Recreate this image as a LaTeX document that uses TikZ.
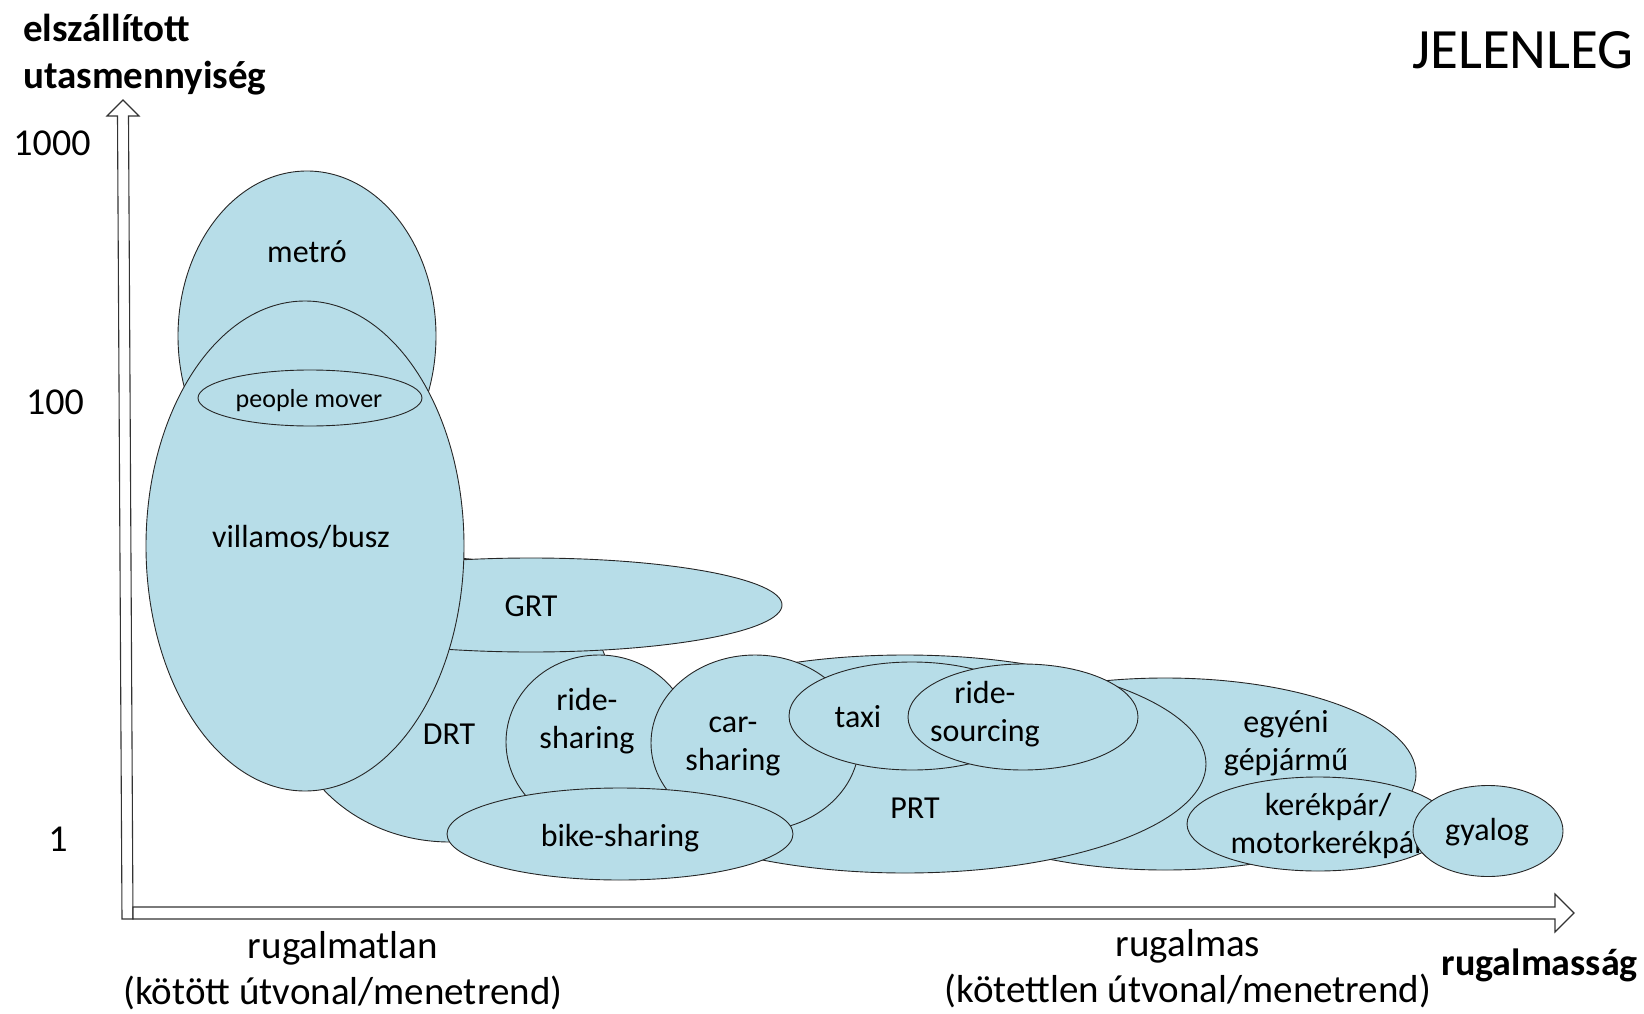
\documentclass[tikz,border=0pt]{standalone}
\usepackage{fontspec}
\setmainfont{Carlito}
\usetikzlibrary{shapes.geometric}
\definecolor{fillblue}{RGB}{183,221,232}
\tikzset{
  blob/.style={ellipse, draw=black!85, line width=0.9pt, fill=fillblue, inner sep=0pt},
  lbl/.style={font=\fontsize{32}{38}\selectfont, align=center, inner sep=0pt},
  smalllbl/.style={font=\fontsize{26}{31}\selectfont, align=center, inner sep=0pt},
  axlbl/.style={font=\fontsize{38}{45}\selectfont, align=center, inner sep=0pt},
  bottomlbl/.style={font=\fontsize{39}{46}\selectfont, align=center, inner sep=0pt},
  axbold/.style={font=\fontsize{39}{47}\selectfont\bfseries, inner sep=0pt},
  axisarrow/.style={draw=black!80, line width=1.1pt, fill=white, line join=miter}
}
\begin{document}
\begin{tikzpicture}[x=1pt,y=-1pt]
\useasboundingbox (0,0) rectangle (1644,1014);

% axes
\draw[axisarrow] (122,919) -- (133,919) -- (128.5,116) -- (139,116) -- (123,100) -- (107,116) -- (117.5,116) -- cycle;
\draw[axisarrow] (133,907) -- (1555,907) -- (1555,894) -- (1574,913) -- (1555,932) -- (1555,919) -- (133,919) -- cycle;

% axis texts
\node[axbold, anchor=west, align=left] (ylabel) at (23,55) {elszállított\\utasmennyiség};
\node[axlbl] (t1000) at (52,143) {1000};
\node[axlbl] (t100) at (55,402) {100};
\node[axlbl] (t1) at (58,839) {1};
\node[font=\fontsize{57}{66}\selectfont, inner sep=0pt, anchor=east] (title) at (1634,50) {JELENLEG};
\node[bottomlbl] (rigid) at (343,971) {rugalmatlan\\(kötött útvonal/menetrend)};
\node[bottomlbl] (flex) at (1188,969) {rugalmas\\(kötettlen útvonal/menetrend)};
\node[axbold, font=\fontsize{38}{46}\selectfont\bfseries, anchor=east] (xlabel) at (1638,965) {rugalmasság};

% ellipses, bottom to top
\node[blob, minimum width=258pt, minimum height=330pt] (metro) at (307,336) {};
\node[lbl] (metrot) at (307,252) {metró};

\node[blob, minimum width=326pt, minimum height=284pt] (drt) at (450,700) {};
\node[lbl] (drtt) at (449,734) {DRT};

\node[blob, minimum width=502pt, minimum height=94pt] (grt) at (531,605) {};
\node[lbl] (grtt) at (531,606) {GRT};

\node[blob, minimum width=318pt, minimum height=490pt] (villamos) at (305,546) {};
\node[lbl] (villamost) at (301,537) {villamos/busz};

\node[blob, minimum width=224pt, minimum height=56pt] (pm) at (310,398) {};
\node[smalllbl] (pmt) at (309,401) {people mover};

\node[blob, minimum width=502pt, minimum height=192pt] (egyeni) at (1165,774) {};
\node[lbl] (egyenit) at (1286,743) {egyéni\\gépjármű};

\node[blob, minimum width=602pt, minimum height=218pt] (prt) at (905,764) {};
\node[lbl] (prtt) at (915,808) {PRT};

\node[blob, minimum width=186pt, minimum height=174pt] (rides) at (599,742) {};
\node[lbl] (ridest) at (587,721) {ride-\\sharing};

\node[blob, minimum width=208pt, minimum height=176pt] (cars) at (755,743) {};
\node[lbl] (carst) at (733,746) {car-\\sharing};

\node[blob, minimum width=246pt, minimum height=108pt] (taxi) at (912,716) {};
\node[lbl] (taxit) at (858,717) {taxi};

\node[blob, minimum width=230pt, minimum height=106pt] (ridesrc) at (1023,717) {};
\node[lbl] (ridesrct) at (985,714) {ride-\\sourcing};

\node[blob, minimum width=346pt, minimum height=92pt] (bikes) at (620,834) {};
\node[lbl] (bikest) at (620,838) {bike-sharing};

\node[blob, minimum width=262pt, minimum height=94pt] (bike) at (1318,824) {};
\node[lbl] (biket) at (1328,826) {kerékpár/\\motorkerékpár};

\node[blob, minimum width=150pt, minimum height=91pt] (walk) at (1488,831) {};
\node[lbl] (walkt) at (1487,832) {gyalog};
\end{tikzpicture}
\end{document}
